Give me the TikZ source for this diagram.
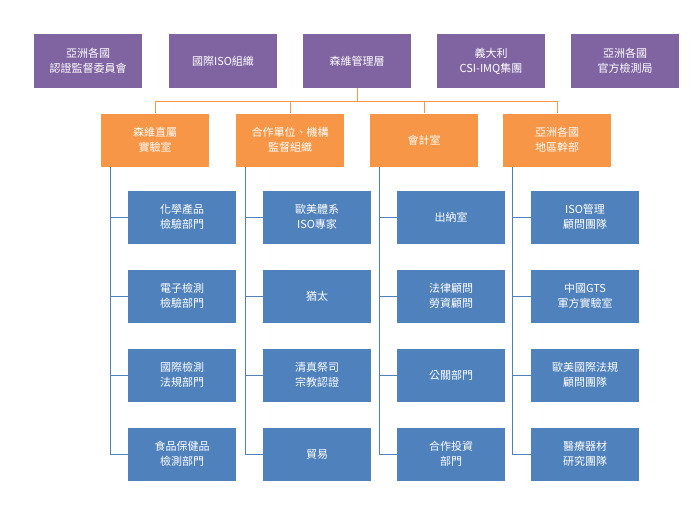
\documentclass[tikz,border=0pt]{standalone}
\usepackage{fontspec}
\setmainfont{Noto Sans CJK TC}
\usetikzlibrary{positioning}
\definecolor{orgpurple}{RGB}{128,100,162}
\definecolor{orgorange}{RGB}{247,150,70}
\definecolor{orgblue}{RGB}{79,129,189}
\tikzset{
  box/.style={minimum width=108pt, minimum height=53pt, text width=104pt, align=center,
    text=white, font=\fontsize{11}{15}\selectfont, inner sep=1pt},
  top/.style={box, fill=orgpurple},
  dept/.style={box, fill=orgorange},
  unit/.style={box, fill=orgblue},
  link/.style={orgblue, line width=1pt},
  head/.style={orgorange, line width=1pt}
}
\begin{document}
\begin{tikzpicture}[x=1pt,y=-1pt]
\useasboundingbox (0,0) rectangle (700,519);
% top row
\node[top] (t1) at (88,61) {亞洲各國\\認證監督委員會};
\node[top] (t2) at (223,61) {國際ISO組織};
\node[top] (t3) at (357,61) {森維管理層};
\node[top] (t4) at (491,61) {義大利\\CSI-IMQ集團};
\node[top] (t5) at (625,61) {亞洲各國\\官方檢測局};
% departments
\node[dept] (d1) at (155,140) {森維直屬\\實驗室};
\node[dept] (d2) at (290,140) {合作單位、機構\\監督組織};
\node[dept] (d3) at (424,140) {會計室};
\node[dept] (d4) at (557,140) {亞洲各國\\地區幹部};
\coordinate (bar) at (357,101);
\draw[head] (t3.south) -- (bar);
\foreach \d in {d1,d2,d3,d4}
  \draw[head] (bar) -| (\d.north);
% units
\foreach \col/\x/\a/\b/\c/\e in {
  1/182/化學產品\\檢驗部門/電子檢測\\檢驗部門/國際檢測\\法規部門/食品保健品\\檢測部門,
  2/317/歐美體系\\ISO專家/猶太/清真祭司\\宗教認證/貿易/行業\\出口公會/國家官方\\實驗室,
  3/451/出納室/法律顧問\\勞資顧問/公關部門/合作投資\\部門,
  4/585/ISO管理\\顧問團隊/中國GTS\\軍方實驗室/歐美國際法規\\顧問團隊/醫療器材\\研究團隊}{
  \node[unit] (u\col a) at (\x,217) {\a};
  \node[unit] (u\col b) at (\x,296) {\b};
  \node[unit] (u\col c) at (\x,375) {\c};
  \node[unit] (u\col d) at (\x,454) {\e};
  \coordinate (s\col) at ([xshift=-45pt]d\col.south);
  \draw[link] (s\col) |- (u\col d.west);
  \foreach \r in {a,b,c}
    \draw[link] (s\col |- u\col\r.west) -- (u\col\r.west);
}
\end{tikzpicture}
\end{document}
